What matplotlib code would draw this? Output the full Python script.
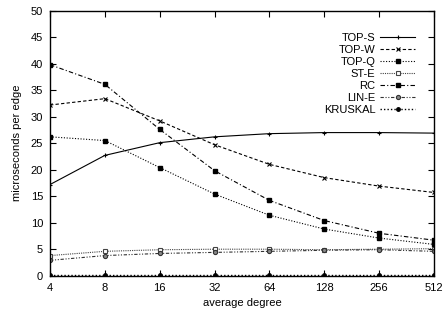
import matplotlib
matplotlib.use("Agg")
import matplotlib.pyplot as plt
from matplotlib.ticker import FixedLocator, NullLocator, FixedFormatter

degrees = [4, 8, 16, 32, 64, 128, 256, 512]
top_s = [17.2, 22.7, 25.1, 26.2, 26.8, 27.0, 27.0, 26.9]
top_w = [32.2, 33.4, 29.2, 24.7, 21.0, 18.5, 16.9, 15.7]
top_q = [26.2, 25.5, 20.4, 15.4, 11.4, 8.8, 7.1, 5.9]
st_e = [3.8, 4.6, 4.9, 5.0, 5.0, 4.9, 5.0, 5.1]
rc = [39.8, 36.1, 27.6, 19.8, 14.2, 10.4, 8.0, 6.7]
lin_e = [2.9, 3.8, 4.2, 4.4, 4.6, 4.8, 4.9, 4.6]
kruskal = [0.1, 0.1, 0.1, 0.1, 0.1, 0.1, 0.1, 0.1]

plt.rcParams['font.family'] = ['Liberation Sans', 'DejaVu Sans']
fig = plt.figure(figsize=(4.43, 3.10), dpi=100)
ax = fig.add_axes([0.1129, 0.1106, 0.867, 0.855])

lw = 0.8
ax.plot(degrees, top_s, '-', marker='+', ms=3, mew=0.8, color='black', lw=lw, label='TOP-S')
ax.plot(degrees, top_w, linestyle=(0, (3, 2)), marker='x', ms=3, mew=0.8, color='black', lw=lw, label='TOP-W')
ax.plot(degrees, top_q, linestyle=(0, (1, 1.5)), marker='s', ms=2.5, color='black', lw=lw, label='TOP-Q')
ax.plot(degrees, st_e, linestyle=(0, (1, 1)), marker='s', ms=3, mfc='white', mew=0.8, color='#444444', lw=lw, label='ST-E')
ax.plot(degrees, rc, linestyle=(0, (4, 2, 1, 2)), marker='s', ms=3, color='black', lw=lw, label='RC')
ax.plot(degrees, lin_e, linestyle=(0, (3, 1.5, 1, 1.5, 1, 1.5)), marker='o', ms=3, mfc='#888888', mec='#333333', mew=0.8, color='#333333', lw=lw, label='LIN-E')
ax.plot(degrees, kruskal, linestyle=(0, (1, 1.5)), marker='o', ms=2.5, color='black', lw=1.0, label='KRUSKAL')

ax.set_xscale('log', base=2)
ax.set_xlim(4, 512)
ax.set_ylim(0, 50)
ax.xaxis.set_major_locator(FixedLocator(degrees))
ax.xaxis.set_major_formatter(FixedFormatter([str(d) for d in degrees]))
ax.xaxis.set_minor_locator(NullLocator())
ax.set_yticks(range(0, 51, 5))
ax.tick_params(direction='in', top=True, right=True, length=4, width=0.8, labelsize=8, pad=5)
for s in ax.spines.values():
    s.set_linewidth(1.0)

ax.set_xlabel('average degree', fontsize=8, labelpad=4)
ax.set_ylabel('microseconds per edge', fontsize=8, labelpad=6)

leg = ax.legend(loc='upper right', bbox_to_anchor=(0.95, 0.9175), frameon=False, fontsize=8,
                markerfirst=False, handlelength=3.1, handletextpad=0.45, labelspacing=0.19,
                borderpad=0.0, borderaxespad=0.0)
for t in leg.get_texts():
    t.set_ha('right')
leg._legend_box.align = 'right'

fig.savefig('out.png', dpi=100)
